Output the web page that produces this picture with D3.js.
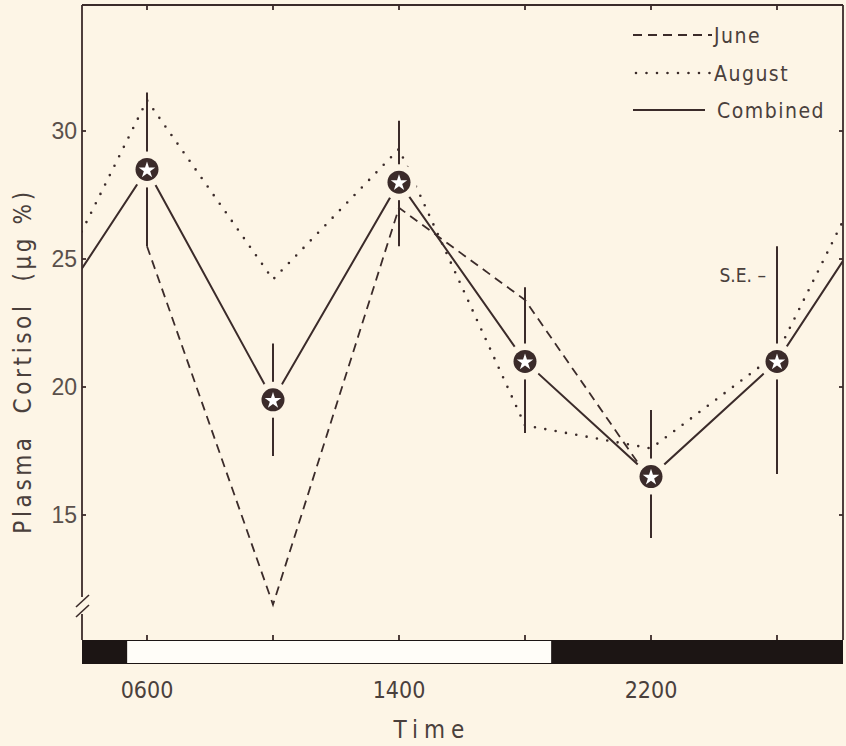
<!DOCTYPE html>
<html>
<head>
<meta charset="utf-8">
<script src="https://cdn.jsdelivr.net/npm/d3@7"></script>
<style>
  body { margin: 0; background: #fdf5e6; }
  svg { display: block; }
  text { font-family: "Liberation Sans Narrow", "DejaVu Sans Condensed", sans-serif; fill: #4a403c; }
</style>
</head>
<body>
<svg id="chart" width="846" height="746"></svg>
<script>
// Sampling times (hours) and mean plasma cortisol, µg %
const hours = [6, 10, 14, 18, 22, 26];
const combined = [28.5, 19.5, 28.0, 21.0, 16.5, 21.0];
const seLow = [25.5, 17.3, 25.5, 18.2, 14.1, 16.6];
const seHigh = [31.5, 21.7, 30.4, 23.9, 19.1, 25.5];
const juneHours = [6, 10, 14, 18, 22];
const june = [25.5, 11.5, 27.0, 23.4, 16.3];
const august = [31.2, 24.2, 29.3, 18.5, 17.6, 21.3];
const yTicks = [15, 20, 25, 30];
const xTickLabels = [[6, '0600'], [14, '1400'], [22, '2200']];
// light period of the light/dark bar
const lightOn = 5.37, lightOff = 18.83;

const ink = '#3b2b2a';
const bg = '#fdf5e6';
const svg = d3.select('#chart');

const plotLeft = 82, plotRight = 843, plotTop = 5, plotBottom = 640, barBottom = 664;

const x = d3.scaleLinear().domain([6, 22]).range([147, 651]);
const y = d3.scaleLinear().domain([15, 30]).range([515, 131]);

svg.append('defs').append('clipPath').attr('id', 'plot')
  .append('rect').attr('x', plotLeft).attr('y', plotTop)
  .attr('width', plotRight - plotLeft).attr('height', plotBottom - plotTop);

// wrap the 24 h cycle so lines run off both edges
function wrapped(hs, vs) {
  const pts = hs.map((h, i) => [h, vs[i]]);
  return [[hs[hs.length - 1] - 24, vs[vs.length - 1]], ...pts, [hs[0] + 24, vs[0]]];
}

const line = d3.line().x(d => x(d[0])).y(d => y(d[1]));
const g = svg.append('g').attr('clip-path', 'url(#plot)');

g.append('path').attr('d', line(juneHours.map((h, i) => [h, june[i]])))
  .attr('fill', 'none').attr('stroke', ink).attr('stroke-width', 1.8)
  .attr('stroke-dasharray', '9,6');

g.append('path').attr('d', line(wrapped(hours, august)))
  .attr('fill', 'none').attr('stroke', ink).attr('stroke-width', 2.6)
  .attr('stroke-linecap', 'round').attr('stroke-dasharray', '0,10.5');

g.append('path').attr('d', line(wrapped(hours, combined)))
  .attr('fill', 'none').attr('stroke', ink).attr('stroke-width', 2);

// standard error bars
g.selectAll('.se').data(hours).enter().append('line')
  .attr('x1', d => x(d)).attr('x2', d => x(d))
  .attr('y1', (d, i) => y(seLow[i])).attr('y2', (d, i) => y(seHigh[i]))
  .attr('stroke', ink).attr('stroke-width', 2);

// markers: halo, dark disc, white star
const marks = g.selectAll('.mark').data(hours).enter().append('g')
  .attr('transform', (d, i) => `translate(${x(d)},${y(combined[i])})`);
marks.append('circle').attr('r', 18).attr('fill', bg);
marks.append('circle').attr('r', 11.5).attr('fill', ink);
marks.append('path').attr('d', d3.symbol().type(d3.symbolStar).size(85)())
  .attr('fill', '#fff').attr('transform', 'translate(0,0.8)');

// frame
const frame = svg.append('g').attr('stroke', ink).attr('fill', 'none').attr('stroke-width', 1.8);
frame.append('line').attr('x1', plotLeft).attr('x2', plotRight).attr('y1', plotTop).attr('y2', plotTop);
frame.append('line').attr('x1', plotRight).attr('x2', plotRight).attr('y1', plotTop).attr('y2', plotBottom);
frame.append('line').attr('x1', plotLeft).attr('x2', plotLeft).attr('y1', plotTop).attr('y2', 597);
frame.append('line').attr('x1', plotLeft).attr('x2', plotLeft).attr('y1', 614).attr('y2', plotBottom);
// axis break
[601, 611].forEach(b => {
  frame.append('line').attr('x1', plotLeft - 6).attr('x2', plotLeft + 7)
    .attr('y1', b + 6).attr('y2', b - 6).attr('stroke-width', 1.6);
});

// inward ticks
yTicks.forEach(t => {
  frame.append('line').attr('x1', plotLeft).attr('x2', plotLeft + 4).attr('y1', y(t)).attr('y2', y(t));
  frame.append('line').attr('x1', plotRight).attr('x2', plotRight - 4).attr('y1', y(t)).attr('y2', y(t));
});
hours.forEach(h => {
  frame.append('line').attr('x1', x(h)).attr('x2', x(h)).attr('y1', plotTop).attr('y2', plotTop + 5);
  frame.append('line').attr('x1', x(h)).attr('x2', x(h)).attr('y1', plotBottom).attr('y2', plotBottom - 5);
});

// light / dark bar
const bar = svg.append('g');
bar.append('rect').attr('x', plotLeft).attr('y', plotBottom)
  .attr('width', plotRight - plotLeft).attr('height', barBottom - plotBottom).attr('fill', '#1c1514');
bar.append('rect').attr('x', x(lightOn)).attr('y', plotBottom + 1)
  .attr('width', x(lightOff) - x(lightOn)).attr('height', barBottom - plotBottom - 2)
  .attr('fill', '#fffdf8');

// y tick labels
svg.selectAll('.ytl').data(yTicks).enter().append('text')
  .attr('x', 77).attr('y', d => y(d) + 8).attr('text-anchor', 'end')
  .style('font-family', '"Liberation Sans", sans-serif').style('font-size', '23px')
  .style('fill', '#5a504b').text(d => d);

// x tick labels
svg.selectAll('.xtl').data(xTickLabels).enter().append('text')
  .attr('x', d => x(d[0])).attr('y', 698).attr('text-anchor', 'middle')
  .style('font-size', '23px').text(d => d[1]);

svg.append('text').attr('x', 432).attr('y', 738).attr('text-anchor', 'middle')
  .style('font-size', '24px').style('letter-spacing', '6px').text('Time');

svg.append('text').attr('transform', 'translate(31,361) rotate(-90)')
  .attr('text-anchor', 'middle').style('font-size', '24px').style('letter-spacing', '3.6px')
  .attr('xml:space', 'preserve').text('Plasma  Cortisol  (μg %)');

// legend
const legend = [
  { name: 'June', y: 35, x1: 633, x2: 712, dash: '9,6', w: 1.8, cap: 'butt' },
  { name: 'August', y: 73, x1: 636, x2: 712, dash: '0,10.5', w: 2.6, cap: 'round' },
  { name: 'Combined', y: 110, x1: 633, x2: 705, dash: null, w: 2, cap: 'butt' }
];
legend.forEach(l => {
  svg.append('line').attr('x1', l.x1).attr('x2', l.x2).attr('y1', l.y).attr('y2', l.y)
    .attr('stroke', ink).attr('stroke-width', l.w).attr('stroke-linecap', l.cap)
    .attr('stroke-dasharray', l.dash);
  svg.append('text').attr('x', l.x2 + (l.dash ? 2 : 12)).attr('y', l.y + 8)
    .style('font-size', '21px').style('letter-spacing', '1.5px').text(l.name);
});

svg.append('text').attr('x', 766).attr('y', 282).attr('text-anchor', 'end')
  .style('font-size', '19px').text('S.E. –');
</script>
</body>
</html>
